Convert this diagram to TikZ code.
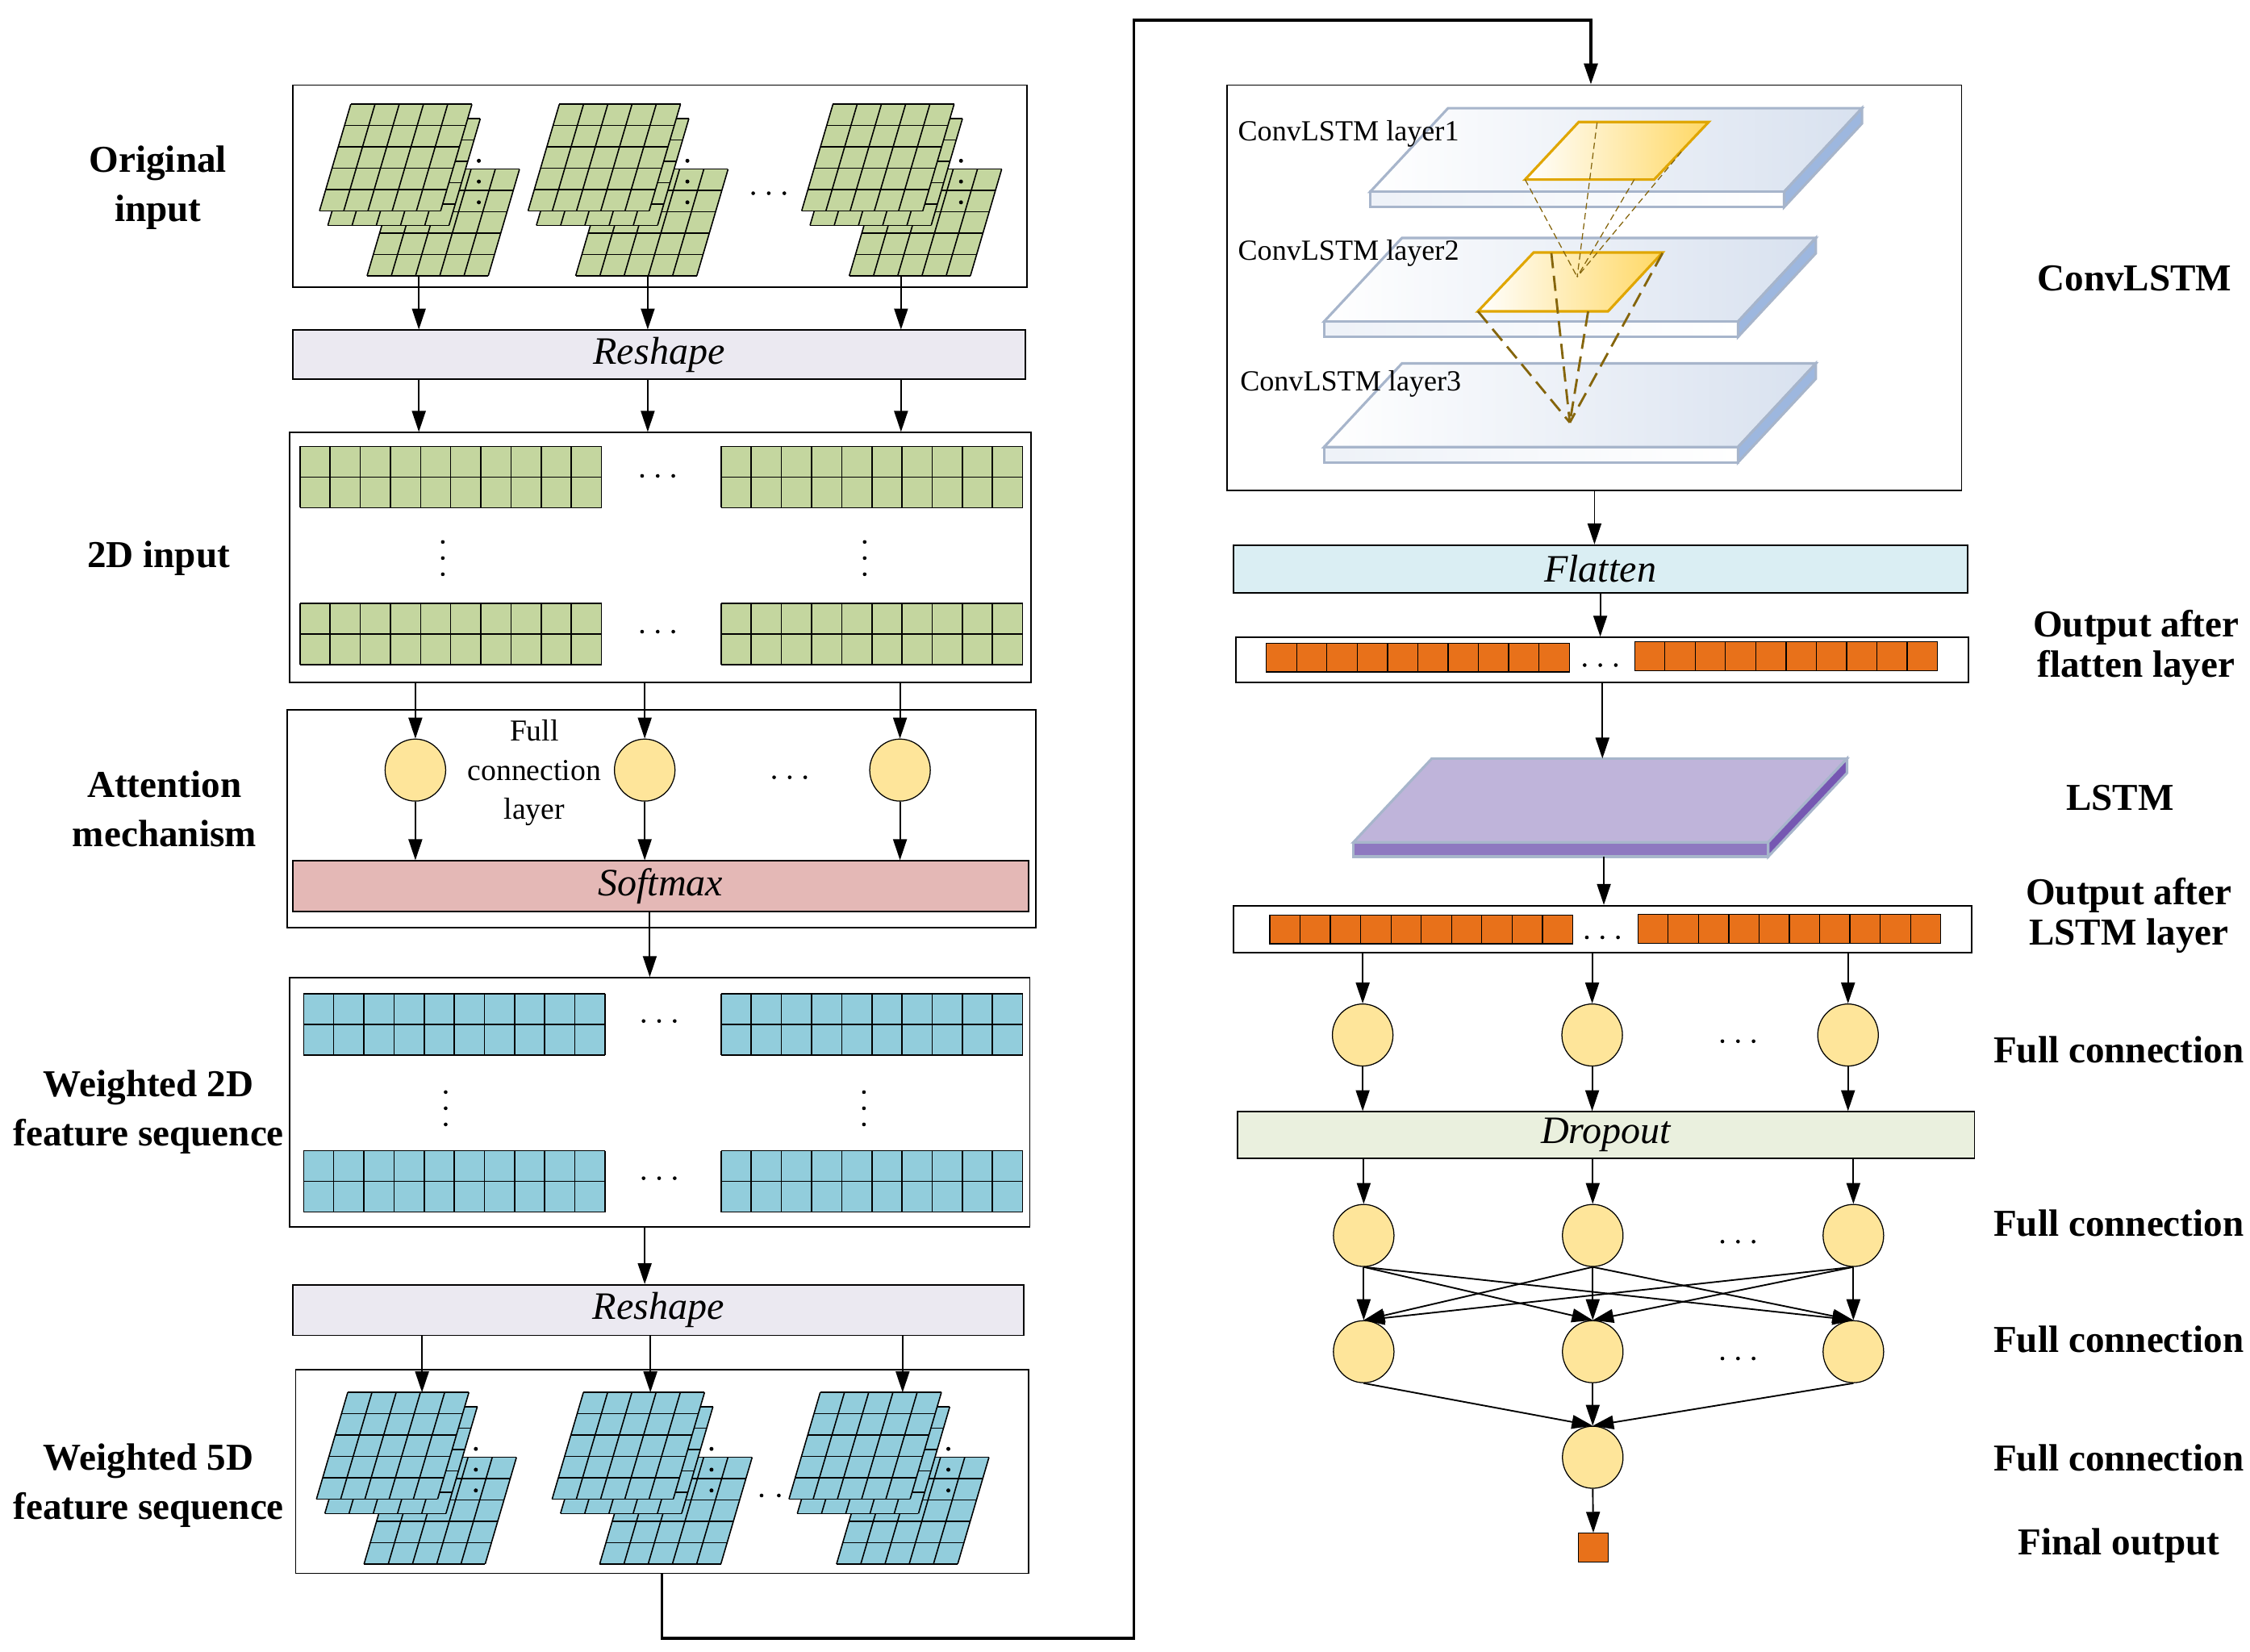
\documentclass[tikz,border=0pt]{standalone}
\usepackage{fontspec}
\setmainfont{Liberation Serif}
\usepackage{tikz}
\usetikzlibrary{shapes}
\usetikzlibrary{arrows.meta}
\usetikzlibrary{positioning}
\usepackage{xcolor}

\definecolor{gridgreen}{HTML}{C4D69F}
\definecolor{gridblue}{HTML}{92CDDC}
\definecolor{cellorange}{HTML}{E8711A}
\definecolor{neuronfill}{HTML}{FEE59A}
\definecolor{reshapefill}{HTML}{EBE9F1}
\definecolor{softmaxfill}{HTML}{E4B8B6}
\definecolor{flattenfill}{HTML}{DAEEF3}
\definecolor{dropoutfill}{HTML}{EAF0DE}
\definecolor{slabtop}{HTML}{D8E1EF}
\definecolor{slabedge}{HTML}{A7B5CB}
\definecolor{slabside}{HTML}{9DB7DF}
\definecolor{kernelfill}{HTML}{FFD864}
\definecolor{kerneledge}{HTML}{E0A600}
\definecolor{kerneldash}{HTML}{85650C}
\definecolor{lstmtop}{HTML}{BFB4DA}
\definecolor{lstmfront}{HTML}{8E78C0}
\definecolor{lstmside}{HTML}{7657B2}

\newcommand{\skewgrid}[3]{%
\fill[#3] (#1,#2) -- ++(84,0) -- ++(21.7,-74) -- ++(-84,0) -- cycle;
\foreach \i in {0,...,5} \draw[line width=0.5pt] ({#1+16.8*\i},#2) -- ++(21.7,-74);
\foreach \j in {0,...,5} \draw[line width=0.5pt] ({#1+4.34*\j},{#2-14.8*\j}) -- ++(84,0);
}
\newcommand{\gridstack}[3]{%
\skewgrid{#1+33}{#2+45}{#3}
\skewgrid{#1+5.8}{#2+10}{#3}
\skewgrid{#1}{#2}{#3}
\foreach \k in {34.8,20.4,6} \fill ({#1+110.5},{#2-\k}) circle(1.4);
}
\newcommand{\flatgrid}[3]{%
\fill[#3] (#1,#2) rectangle ++(209,42.5);
\foreach \i in {0,...,10} \draw[line width=0.5pt] ({#1+20.9*\i},#2) -- ++(0,42.5);
\foreach \j in {0,1,2} \draw[line width=0.5pt] (#1,{#2+21.25*\j}) -- ++(209,0);
}
\newcommand{\cellrow}[2]{%
\foreach \i in {0,...,9} \draw[fill=cellorange, line width=0.4pt] ({#1+21*\i},#2) rectangle ++(21,20);
}
\newcommand{\hdotsat}[2]{\foreach \i in {-10.8,0,10.8} \fill ({#1+\i},#2) circle(1.3);}
\newcommand{\vdotsat}[2]{\foreach \i in {-11.2,0,11.2} \fill (#1,{#2+\i}) circle(1.3);}
\newcommand{\slab}[2]{%
\shadedraw[left color=white, middle color=slabtop!85, right color=slabtop, draw=slabedge, line width=1pt] (#1,#2) -- ++(54,-58) -- ++(287,0) -- ++(-54,58) -- cycle;
\shadedraw[left color=slabtop!45, right color=white, draw=slabedge, line width=1pt] (#1,#2) rectangle ++(287,10.6);
\filldraw[fill=slabside, draw=slabedge, line width=1pt] ({#1+287},#2) -- ++(54,-58) -- ++(0,10.6) -- ++(-54,58) -- cycle;
}

\begin{document}
\begin{tikzpicture}[x=0.2mm, y=-0.2mm,
  panel/.style={draw, line width=0.6pt, inner sep=0pt},
  bar/.style={draw, line width=0.6pt, inner sep=0pt, font=\fontsize{15.3}{18}\selectfont\itshape},
  arr/.style={-{Triangle[length=2.9mm,width=1.9mm]}, line width=0.6pt},
  neuron/.style={ellipse, draw, line width=0.4pt, fill=neuronfill, minimum width=8.4mm, minimum height=8.6mm, inner sep=0pt},
  sidetext/.style={font=\fontsize{15}{19.3}\selectfont\bfseries, align=center},
  sidetextr/.style={font=\fontsize{15}{16}\selectfont\bfseries, align=center},
  smalltext/.style={font=\fontsize{12}{15.4}\selectfont, align=center},
  layertext/.style={font=\fontsize{11.5}{13}\selectfont, anchor=base west, inner sep=0pt}]
\useasboundingbox (0,0) rectangle (1560,1145);

% left column
\node[panel, minimum width=101.8mm, minimum height=28mm] (origbox) at (457.5,129) {};
\gridstack{221.5}{146.3}{gridgreen}
\gridstack{366.1}{146.3}{gridgreen}
\gridstack{555.8}{146.3}{gridgreen}
\hdotsat{533}{134}
\coordinate (s1) at (290.4,191.3);
\coordinate (s2) at (449.1,191.3);
\coordinate (s3) at (624.7,191.3);
\node[bar, fill=reshapefill, minimum width=101.6mm, minimum height=6.8mm] (reshapeA) at (457,246) {Reshape};

\node[panel, minimum width=102.8mm, minimum height=34.6mm] (twodbox) at (458,386.5) {};
\flatgrid{208}{309.5}{gridgreen}
\flatgrid{500}{309.5}{gridgreen}
\flatgrid{208}{418.5}{gridgreen}
\flatgrid{500}{418.5}{gridgreen}
\hdotsat{456}{330}
\hdotsat{456}{438}
\vdotsat{307}{387}
\vdotsat{599.5}{387}

\node[panel, minimum width=103.8mm, minimum height=30.2mm] (attbox) at (458.5,567.5) {};
\node[neuron] (att1) at (288,534) {};
\node[neuron] (att2) at (447,534) {};
\node[neuron] (att3) at (624,534) {};
\node[smalltext] (fclabel) at (370.5,536) {Full\\connection\\layer};
\hdotsat{547.5}{539}
\node[bar, fill=softmaxfill, minimum width=102mm, minimum height=7mm] (softmax) at (458,614.5) {Softmax};

\node[panel, minimum width=102.6mm, minimum height=34.6mm] (wtbox) at (457.5,764.5) {};
\flatgrid{210.5}{689}{gridblue}
\flatgrid{500}{689}{gridblue}
\flatgrid{210.5}{798}{gridblue}
\flatgrid{500}{798}{gridblue}
\hdotsat{457}{708}
\hdotsat{457}{817}
\vdotsat{309}{768.5}
\vdotsat{599}{768.5}

\node[bar, fill=reshapefill, minimum width=101.4mm, minimum height=7mm] (reshapeB) at (456.5,908.5) {Reshape};

\node[panel, minimum width=101.6mm, minimum height=28.2mm] (fivebox) at (459,1020.5) {};
\gridstack{219.4}{1039.5}{gridblue}
\gridstack{382.8}{1039.5}{gridblue}
\foreach \x in {528,540} \fill (\x,1037) circle(1.3);
\gridstack{547}{1039.5}{gridblue}
\coordinate (g1) at (292.6,965.5);
\coordinate (g2) at (450.9,965.5);
\coordinate (g3) at (625.8,965.5);

\foreach \i in {1,2,3} {
  \draw[arr] (s\i) -- (s\i |- reshapeA.north);
  \draw[arr] (s\i |- reshapeA.south) -- (s\i |- twodbox.north);
  \draw[arr] (att\i |- twodbox.south) -- (att\i.north);
  \draw[arr] (att\i.south) -- (att\i.south |- softmax.north);
  \draw[arr] (g\i |- reshapeB.south) -- (g\i);
}
\draw[arr] ([xshift=-1.5mm]softmax.south) -- ([xshift=-1.5mm]softmax.south |- wtbox.north);
\draw[arr] ([xshift=-2.1mm]wtbox.south) -- ([xshift=-2.1mm]wtbox.south |- reshapeB.north);

\node[sidetext] (lborig) at (109.5,130) {Original\\input};
\node[sidetext] (lbtwod) at (110,387) {2D input};
\node[sidetext] (lbatt) at (114,561) {Attention\\mechanism};
\node[sidetext] (lbwt) at (103,771) {Weighted 2D\\feature sequence};
\node[sidetext] (lbfive) at (103,1030) {Weighted 5D\\feature sequence};

% right column
\node[panel, minimum width=101.8mm, minimum height=56.2mm] (convbox) at (1105.5,199.5) {};
\slab{950}{133}
\slab{918}{223}
\slab{918}{310}
\shadedraw[left color=white, middle color=kernelfill, right color=kernelfill, draw=kerneledge, line width=1pt] (1057.4,124.5) -- (1094.6,84.6) -- (1184.7,84.6) -- (1146.9,124.5) -- cycle;
\shadedraw[left color=white, middle color=kernelfill, right color=kernelfill, draw=kerneledge, line width=1pt] (1024.7,215.9) -- (1063.3,175.1) -- (1152.7,175.1) -- (1114.9,215.9) -- cycle;
\coordinate (apexA) at (1093.5,192);
\coordinate (apexB) at (1088.4,293);
\foreach \p in {(1057.4,124.5),(1107.3,85),(1133.1,124.5),(1165.8,105.2)}
  \draw[kerneldash, line width=0.4pt, dash pattern=on 2.5pt off 1.5pt] \p -- (apexA);
\foreach \p in {(1024.7,215.9),(1075.6,175.5),(1101.1,215.9),(1152.7,175.5)}
  \draw[kerneldash, line width=0.9pt, dash pattern=on 6pt off 3pt] \p -- (apexB);
\node[layertext] (cl1) at (858,97.5) {ConvLSTM layer1};
\node[layertext] (cl2) at (858,180.3) {ConvLSTM layer2};
\node[layertext] (cl3) at (859.5,270.8) {ConvLSTM layer3};

\coordinate (turnA) at (786,1136);
\coordinate (turnB) at (786,14);
\draw[arr, line width=1pt] (fivebox.south) |- (turnA) -- (turnB) -| ([xshift=-0.5mm]convbox.north);

\node[bar, fill=flattenfill, minimum width=101.8mm, minimum height=6.6mm] (flatten) at (1109.5,394.5) {Flatten};
\node[panel, minimum width=101.6mm, minimum height=6.2mm] (flatout) at (1111,457.5) {};
\cellrow{878}{446}
\cellrow{1133.3}{445}
\hdotsat{1109.5}{461.2}

\filldraw[fill=lstmtop, draw=slabedge, line width=1pt] (938.4,584) -- (992.7,526) -- (1280.6,526) -- (1226,584) -- cycle;
\filldraw[fill=lstmfront, draw=slabedge, line width=1pt] (938.4,584) rectangle (1226,594);
\filldraw[fill=lstmside, draw=slabedge, line width=1pt] (1226,584) -- (1280.6,526) -- (1280.6,536) -- (1226,594) -- cycle;
\coordinate (lstmtop) at (1111,526);
\coordinate (lstmbot) at (1112,594);

\node[panel, minimum width=102.4mm, minimum height=6.5mm] (lstmout) at (1111,644.25) {};
\cellrow{880.4}{634.5}
\cellrow{1135.6}{634}
\hdotsat{1111}{650}

\draw[arr] (convbox.south) -- (convbox.south |- flatten.north);
\draw[arr] (flatten.south) -- (flatten.south |- flatout.north);
\draw[arr] (flatout.south) -- (lstmtop);
\draw[arr] (lstmbot) -- (lstmbot |- lstmout.north);

\node[neuron] (fca1) at (944.8,717.7) {};
\node[neuron] (fca2) at (1103.9,717.7) {};
\node[neuron] (fca3) at (1281.3,717.7) {};
\node[bar, fill=dropoutfill, minimum width=102.2mm, minimum height=6.4mm] (dropout) at (1113.5,787) {Dropout};
\node[neuron] (fcb1) at (945.5,856.7) {};
\node[neuron] (fcb2) at (1104.3,856.7) {};
\node[neuron] (fcb3) at (1285,856.7) {};
\node[neuron] (fcc1) at (945.5,937.3) {};
\node[neuron] (fcc2) at (1104.3,937.3) {};
\node[neuron] (fcc3) at (1285,937.3) {};
\node[neuron] (fcd) at (1104.3,1010.5) {};
\node[draw, fill=cellorange, line width=0.4pt, minimum width=4.2mm, minimum height=4mm, inner sep=0pt] (outsq) at (1104.7,1073.2) {};
\hdotsat{1205}{722}
\hdotsat{1205}{861}
\hdotsat{1205}{942}

\foreach \i in {1,2,3} {
  \draw[arr] (fca\i |- lstmout.south) -- (fca\i.north);
  \draw[arr] (fca\i.south) -- (fca\i.south |- dropout.north);
  \draw[arr] (fcb\i |- dropout.south) -- (fcb\i.north);
  \foreach \j in {1,2,3} \draw[arr] (fcb\i.south) -- (fcc\j.north);
  \draw[arr] (fcc\i.south) -- (fcd.north);
}
\draw[arr] (fcd.south) -- (outsq.north);

\node[sidetextr] (lbconv) at (1480,193) {ConvLSTM};
\node[sidetextr] (lbflat) at (1481,449) {Output after\\flatten layer};
\node[sidetextr] (lblstm) at (1470,553) {LSTM};
\node[sidetextr] (lblout) at (1476,635) {Output after\\LSTM layer};
\node[sidetextr] (lbfc1) at (1469,728) {Full connection};
\node[sidetextr] (lbfc2) at (1469,848) {Full connection};
\node[sidetextr] (lbfc3) at (1469,929) {Full connection};
\node[sidetextr] (lbfc4) at (1469,1011) {Full connection};
\node[sidetextr] (lbfinal) at (1469,1072) {Final output};
\end{tikzpicture}
\end{document}
